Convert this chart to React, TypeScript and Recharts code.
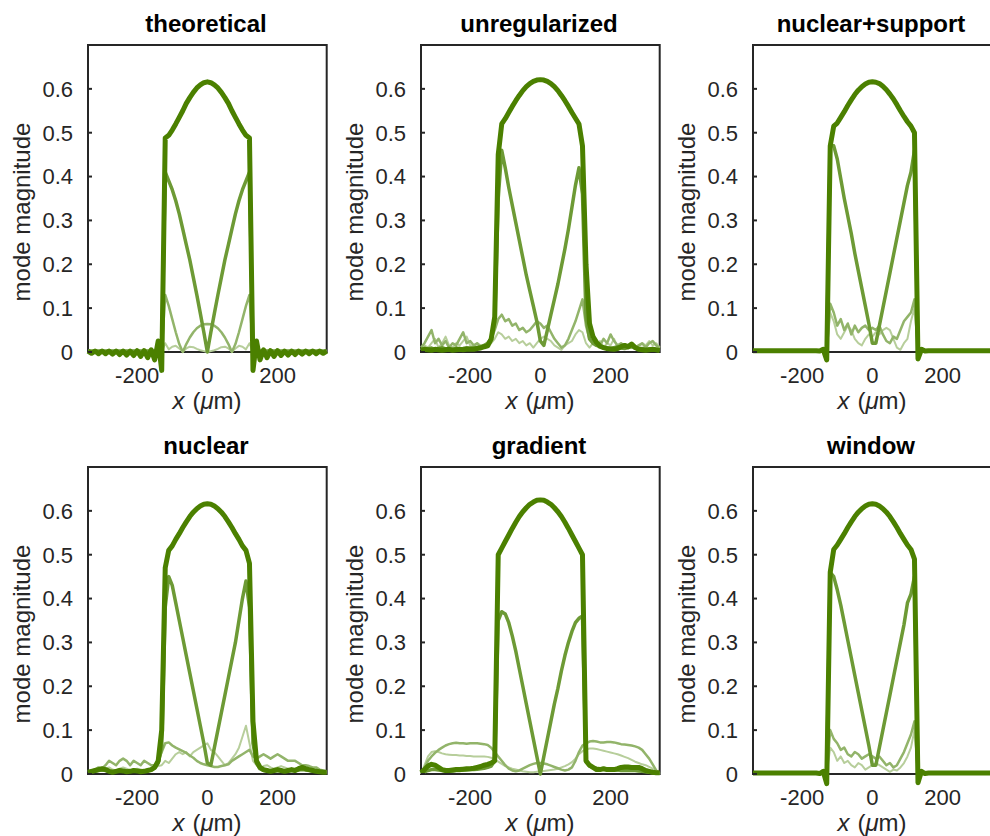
import React from 'react';
import { LineChart, Line, XAxis, YAxis, ReferenceArea, Label } from 'recharts';

const X = [-340,-330,-320,-310,-300,-290,-280,-270,-260,-250,-240,-230,-220,-210,-200,-190,-180,-170,-160,-150,-140,-130,-120,-110,-100,-90,-80,-70,-60,-50,-40,-30,-20,-10,0,10,20,30,40,50,60,70,80,90,100,110,120,130,140,150,160,170,180,190,200,210,220,230,240,250,260,270,280,290,300,310,320,330,340];
const X_TICKS = [-200, 0, 200];
const Y_TICKS = [0, 0.1, 0.2, 0.3, 0.4, 0.5, 0.6];
const TITLES = ['theoretical', 'unregularized', 'nuclear+support', 'nuclear', 'gradient', 'window'];

// theoretical
const THEO_M0 = [0.002,-0.003,0.002,-0.004,0.002,-0.004,0.002,-0.005,0.002,-0.006,0.002,-0.007,0.002,-0.008,0.003,-0.01,0.003,-0.013,0.005,-0.018,0.025,
  -0.042,
  0.488,0.494,0.506,0.52,0.535,0.55,0.567,0.58,0.592,0.602,0.609,0.614,0.616,0.614,0.609,0.602,0.592,0.58,0.567,0.55,0.535,0.52,0.506,0.494,0.488,
  -0.042,
  0.025,-0.018,0.005,-0.013,0.003,-0.01,0.003,-0.008,0.002,-0.007,0.002,-0.006,0.002,-0.005,0.002,-0.004,0.002,-0.004,0.002,-0.003,0.002];
const THEO_M1 = [0.002,0.002,0.002,0.002,0.002,0.002,0.002,0.002,0.002,0.002,0.002,0.002,0.002,0.002,0.002,0.002,0.002,0.002,0.002,0.002,0.002,
  0.0,
  0.41,0.39,0.37,0.345,0.315,0.28,0.245,0.21,0.17,0.13,0.088,0.045,0.0,0.045,0.088,0.13,0.17,0.21,0.245,0.28,0.315,0.345,0.37,0.39,0.41,
  0.0,
  0.002,0.002,0.002,0.002,0.002,0.002,0.002,0.002,0.002,0.002,0.002,0.002,0.002,0.002,0.002,0.002,0.002,0.002,0.002,0.002,0.002];
const THEO_M2 = [0.001,0.001,0.001,0.001,0.001,0.001,0.001,0.001,0.001,0.001,0.001,0.001,0.001,0.001,0.001,0.001,0.001,0.001,0.001,0.001,0.001,
  0.0,
  0.13,0.105,0.075,0.045,0.018,0.0,0.018,0.033,0.045,0.054,0.06,0.063,0.064,0.063,0.06,0.054,0.045,0.033,0.018,0.0,0.018,0.045,0.075,0.105,0.13,
  0.0,
  0.001,0.001,0.001,0.001,0.001,0.001,0.001,0.001,0.001,0.001,0.001,0.001,0.001,0.001,0.001,0.001,0.001,0.001,0.001,0.001,0.001];
const THEO_M3 = [0.001,0.001,0.001,0.001,0.001,0.001,0.001,0.001,0.001,0.001,0.001,0.001,0.001,0.001,0.001,0.001,0.001,0.001,0.001,0.001,0.001,
  0.0,
  0.02,0.006,0.012,0.014,0.008,0.001,0.008,0.012,0.011,0.007,0.004,0.002,0.0,0.002,0.004,0.007,0.011,0.012,0.008,0.001,0.008,0.014,0.012,0.006,0.02,
  0.0,
  0.001,0.001,0.001,0.001,0.001,0.001,0.001,0.001,0.001,0.001,0.001,0.001,0.001,0.001,0.001,0.001,0.001,0.001,0.001,0.001,0.001];

// unregularized
const UNREG_M0 = [0.004,0.006,0.005,0.004,0.006,0.005,0.004,0.005,0.006,0.004,0.005,0.006,0.005,0.006,0.007,0.006,0.008,0.009,0.012,0.014,0.03,
  0.08,
  0.45,0.52,0.532,0.546,0.56,0.573,0.585,0.596,0.605,0.612,0.617,0.62,0.621,0.62,0.617,0.612,0.605,0.596,0.585,0.573,0.56,0.546,0.533,0.52,0.47,
  0.2,
  0.065,0.035,0.022,0.013,0.01,0.008,0.007,0.006,0.008,0.012,0.015,0.012,0.018,0.01,0.006,0.005,0.004,0.005,0.006,0.005,0.003];
const UNREG_M1 = [0.006,0.008,0.007,0.009,0.006,0.008,0.01,0.007,0.008,0.006,0.009,0.007,0.008,0.01,0.008,0.009,0.01,0.012,0.015,0.02,0.03,
  0.07,
  0.35,0.46,0.42,0.375,0.335,0.295,0.255,0.215,0.175,0.14,0.105,0.07,0.025,0.015,0.05,0.085,0.12,0.155,0.195,0.235,0.28,0.33,0.38,0.42,0.36,
  0.08,
  0.03,0.02,0.015,0.012,0.01,0.009,0.008,0.01,0.012,0.009,0.008,0.01,0.012,0.009,0.007,0.008,0.006,0.007,0.006,0.005,0.005];
const UNREG_M2 = [0.01,0.02,0.035,0.05,0.02,0.03,0.015,0.025,0.01,0.02,0.015,0.03,0.045,0.02,0.025,0.015,0.02,0.01,0.015,0.02,0.03,
  0.05,
  0.075,0.085,0.07,0.075,0.06,0.065,0.05,0.055,0.045,0.05,0.06,0.07,0.065,0.055,0.06,0.045,0.03,0.02,0.01,0.015,0.03,0.05,0.07,0.095,0.12,
  0.06,
  0.03,0.02,0.025,0.015,0.03,0.02,0.04,0.025,0.015,0.02,0.01,0.015,0.02,0.01,0.015,0.02,0.01,0.02,0.025,0.015,0.01];
const UNREG_M3 = [0.005,0.015,0.01,0.02,0.03,0.01,0.02,0.035,0.015,0.01,0.02,0.015,0.025,0.035,0.015,0.01,0.02,0.015,0.01,0.015,0.02,
  0.03,
  0.045,0.04,0.03,0.035,0.025,0.03,0.02,0.025,0.015,0.02,0.01,0.02,0.03,0.035,0.03,0.025,0.015,0.01,0.005,0.015,0.02,0.025,0.04,0.05,0.045,
  0.02,
  0.01,0.02,0.015,0.025,0.01,0.02,0.015,0.03,0.01,0.02,0.015,0.01,0.02,0.015,0.01,0.02,0.015,0.025,0.015,0.02,0.01];

// nuclear+support
const NUCSUP_M0 = [0.003,0.003,0.003,0.003,0.003,0.003,0.003,0.003,0.003,0.003,0.003,0.003,0.003,0.003,0.003,0.003,0.003,0.003,0.003,0.002,0.006,
  -0.018,
  0.47,0.515,0.522,0.535,0.548,0.562,0.575,0.587,0.597,0.605,0.611,0.615,0.616,0.615,0.612,0.606,0.598,0.588,0.577,0.564,0.55,0.537,0.525,0.515,0.5,
  -0.016,
  0.006,0.002,0.003,0.003,0.003,0.003,0.003,0.003,0.003,0.003,0.003,0.003,0.003,0.003,0.003,0.003,0.003,0.003,0.003,0.003,0.003];
const NUCSUP_M1 = [0.002,0.002,0.002,0.002,0.002,0.002,0.002,0.002,0.002,0.002,0.002,0.002,0.002,0.002,0.002,0.002,0.002,0.002,0.002,0.002,0.002,
  0.0,
  0.47,0.47,0.44,0.395,0.35,0.31,0.27,0.225,0.185,0.145,0.105,0.065,0.02,0.02,0.06,0.1,0.14,0.18,0.22,0.26,0.3,0.34,0.38,0.41,0.46,
  0.0,
  0.002,0.002,0.002,0.002,0.002,0.002,0.002,0.002,0.002,0.002,0.002,0.002,0.002,0.002,0.002,0.002,0.002,0.002,0.002,0.002,0.002];
const NUCSUP_M2 = [0.002,0.002,0.002,0.002,0.002,0.002,0.002,0.002,0.002,0.002,0.002,0.002,0.002,0.002,0.002,0.002,0.002,0.002,0.002,0.002,0.002,
  0.0,
  0.11,0.09,0.06,0.075,0.05,0.065,0.04,0.06,0.045,0.055,0.06,0.05,0.055,0.05,0.06,0.04,0.025,0.02,0.035,0.03,0.05,0.07,0.08,0.09,0.12,
  0.0,
  0.002,0.002,0.002,0.002,0.002,0.002,0.002,0.002,0.002,0.002,0.002,0.002,0.002,0.002,0.002,0.002,0.002,0.002,0.002,0.002,0.002];
const NUCSUP_M3 = [0.001,0.001,0.001,0.001,0.001,0.001,0.001,0.001,0.001,0.001,0.001,0.001,0.001,0.001,0.001,0.001,0.001,0.001,0.001,0.001,0.001,
  0.0,
  0.09,0.07,0.04,0.03,0.045,0.06,0.05,0.03,0.02,0.015,0.03,0.04,0.035,0.045,0.04,0.05,0.055,0.05,0.03,0.01,0.005,0.02,0.03,0.07,0.1,
  0.0,
  0.001,0.001,0.001,0.001,0.001,0.001,0.001,0.001,0.001,0.001,0.001,0.001,0.001,0.001,0.001,0.001,0.001,0.001,0.001,0.001,0.001];

// nuclear
const NUC_M0 = [0.004,0.006,0.008,0.01,0.012,0.01,0.006,0.004,0.006,0.008,0.007,0.005,0.006,0.008,0.007,0.005,0.006,0.008,0.01,0.015,0.03,
  0.1,
  0.47,0.51,0.52,0.535,0.548,0.562,0.575,0.587,0.597,0.605,0.611,0.615,0.616,0.615,0.611,0.605,0.597,0.587,0.575,0.562,0.548,0.535,0.52,0.51,0.48,
  0.12,
  0.03,0.015,0.01,0.008,0.006,0.008,0.01,0.008,0.006,0.008,0.01,0.008,0.012,0.015,0.012,0.01,0.008,0.006,0.005,0.004,0.004];
const NUC_M1 = [0.004,0.005,0.006,0.008,0.009,0.008,0.006,0.005,0.006,0.007,0.007,0.006,0.006,0.007,0.007,0.006,0.006,0.008,0.01,0.014,0.025,
  0.06,
  0.38,0.45,0.43,0.39,0.35,0.31,0.27,0.23,0.19,0.15,0.11,0.07,0.025,0.02,0.06,0.1,0.14,0.18,0.22,0.26,0.3,0.35,0.4,0.44,0.38,
  0.07,
  0.025,0.012,0.008,0.007,0.006,0.007,0.008,0.007,0.006,0.007,0.008,0.007,0.009,0.01,0.009,0.008,0.007,0.006,0.005,0.004,0.004];
const NUC_M2 = [0.005,0.008,0.01,0.015,0.012,0.02,0.03,0.025,0.02,0.03,0.035,0.03,0.02,0.03,0.025,0.02,0.03,0.025,0.02,0.02,0.03,
  0.05,
  0.07,0.072,0.065,0.06,0.056,0.052,0.048,0.042,0.037,0.03,0.025,0.022,0.02,0.018,0.016,0.016,0.018,0.02,0.022,0.03,0.035,0.04,0.045,0.05,0.055,
  0.04,
  0.035,0.04,0.045,0.04,0.035,0.04,0.045,0.04,0.035,0.03,0.03,0.03,0.025,0.02,0.02,0.018,0.015,0.015,0.01,0.008,0.005];
const NUC_M3 = [0.003,0.005,0.008,0.01,0.008,0.012,0.015,0.01,0.008,0.012,0.015,0.012,0.008,0.01,0.012,0.01,0.008,0.01,0.012,0.015,0.018,
  0.02,
  0.03,0.025,0.035,0.045,0.05,0.045,0.05,0.04,0.05,0.055,0.06,0.065,0.07,0.055,0.05,0.04,0.03,0.02,0.025,0.035,0.045,0.06,0.085,0.11,0.07,
  0.03,
  0.02,0.015,0.018,0.02,0.015,0.012,0.015,0.018,0.015,0.012,0.01,0.012,0.015,0.012,0.01,0.008,0.01,0.008,0.006,0.005,0.004];

// gradient
const GRAD_M0 = [0.003,0.01,0.018,0.022,0.02,0.015,0.01,0.008,0.008,0.009,0.01,0.01,0.011,0.012,0.012,0.013,0.015,0.017,0.02,0.022,0.025,
  0.03,
  0.5,0.515,0.53,0.545,0.56,0.574,0.587,0.598,0.607,0.615,0.62,0.624,0.625,0.624,0.62,0.615,0.607,0.598,0.587,0.574,0.56,0.545,0.53,0.515,0.5,
  0.03,
  0.02,0.015,0.01,0.01,0.012,0.01,0.01,0.01,0.012,0.015,0.016,0.016,0.015,0.015,0.015,0.012,0.008,0.006,0.004,0.003,0.003];
const GRAD_M1 = [0.002,0.005,0.008,0.01,0.01,0.009,0.008,0.007,0.007,0.007,0.008,0.008,0.009,0.009,0.01,0.01,0.011,0.012,0.013,0.015,0.018,
  0.03,
  0.35,0.37,0.365,0.345,0.315,0.28,0.24,0.2,0.16,0.12,0.08,0.04,0.0,0.04,0.08,0.12,0.16,0.195,0.235,0.27,0.3,0.325,0.345,0.355,0.36,
  0.03,
  0.018,0.015,0.013,0.012,0.011,0.01,0.01,0.009,0.009,0.008,0.008,0.008,0.008,0.008,0.007,0.006,0.005,0.004,0.003,0.002,0.002];
const GRAD_M2 = [0.0,0.015,0.03,0.04,0.048,0.055,0.06,0.065,0.068,0.07,0.071,0.07,0.07,0.069,0.07,0.07,0.07,0.069,0.068,0.066,0.06,
  0.05,
  0.04,0.03,0.02,0.012,0.008,0.006,0.008,0.012,0.016,0.02,0.023,0.025,0.025,0.024,0.022,0.019,0.016,0.013,0.01,0.008,0.01,0.015,0.03,0.05,0.065,
  0.07,
  0.074,0.075,0.074,0.072,0.072,0.073,0.073,0.072,0.07,0.068,0.067,0.066,0.065,0.063,0.06,0.055,0.045,0.035,0.022,0.008,0.0];
const GRAD_M3 = [0.0,0.02,0.04,0.05,0.052,0.05,0.047,0.045,0.044,0.043,0.043,0.042,0.042,0.041,0.041,0.04,0.04,0.04,0.04,0.039,0.037,
  0.033,
  0.028,0.023,0.018,0.015,0.012,0.01,0.008,0.006,0.005,0.004,0.004,0.005,0.006,0.007,0.008,0.009,0.01,0.012,0.015,0.018,0.022,0.027,0.035,0.045,0.052,
  0.056,
  0.058,0.058,0.057,0.055,0.053,0.051,0.049,0.047,0.045,0.042,0.039,0.036,0.032,0.028,0.025,0.022,0.02,0.016,0.012,0.006,0.0];

// window
const WIN_M0 = [0.002,0.002,0.002,0.002,0.002,0.002,0.002,0.002,0.002,0.002,0.002,0.002,0.002,0.002,0.002,0.002,0.002,0.002,0.002,0.001,0.006,
  -0.022,
  0.46,0.512,0.522,0.535,0.548,0.562,0.575,0.587,0.597,0.605,0.611,0.615,0.616,0.615,0.611,0.605,0.597,0.587,0.575,0.562,0.548,0.535,0.522,0.512,0.49,
  -0.02,
  0.006,0.001,0.002,0.002,0.002,0.002,0.002,0.002,0.002,0.002,0.002,0.002,0.002,0.002,0.002,0.002,0.002,0.002,0.002,0.002,0.002];
const WIN_M1 = [0.002,0.002,0.002,0.002,0.002,0.002,0.002,0.002,0.002,0.002,0.002,0.002,0.002,0.002,0.002,0.002,0.002,0.002,0.002,0.002,0.002,
  0.0,
  0.46,0.45,0.42,0.385,0.345,0.305,0.265,0.225,0.185,0.145,0.105,0.065,0.02,0.02,0.06,0.1,0.14,0.18,0.22,0.26,0.3,0.34,0.39,0.41,0.45,
  0.0,
  0.002,0.002,0.002,0.002,0.002,0.002,0.002,0.002,0.002,0.002,0.002,0.002,0.002,0.002,0.002,0.002,0.002,0.002,0.002,0.002,0.002];
const WIN_M2 = [0.002,0.002,0.002,0.002,0.002,0.002,0.002,0.002,0.002,0.002,0.002,0.002,0.002,0.002,0.002,0.002,0.002,0.002,0.002,0.002,0.002,
  0.0,
  0.1,0.08,0.07,0.055,0.06,0.045,0.04,0.05,0.045,0.035,0.04,0.045,0.04,0.035,0.04,0.03,0.02,0.025,0.015,0.02,0.035,0.05,0.07,0.09,0.12,
  0.0,
  0.002,0.002,0.002,0.002,0.002,0.002,0.002,0.002,0.002,0.002,0.002,0.002,0.002,0.002,0.002,0.002,0.002,0.002,0.002,0.002,0.002];
const WIN_M3 = [0.001,0.001,0.001,0.001,0.001,0.001,0.001,0.001,0.001,0.001,0.001,0.001,0.001,0.001,0.001,0.001,0.001,0.001,0.001,0.001,0.001,
  0.0,
  0.06,0.05,0.03,0.04,0.025,0.03,0.02,0.015,0.025,0.02,0.01,0.015,0.02,0.025,0.02,0.015,0.01,0.005,0.01,0.008,0.015,0.025,0.04,0.06,0.1,
  0.0,
  0.001,0.001,0.001,0.001,0.001,0.001,0.001,0.001,0.001,0.001,0.001,0.001,0.001,0.001,0.001,0.001,0.001,0.001,0.001,0.001,0.001];

const PANELS = [
  [THEO_M0, THEO_M1, THEO_M2, THEO_M3],
  [UNREG_M0, UNREG_M1, UNREG_M2, UNREG_M3],
  [NUCSUP_M0, NUCSUP_M1, NUCSUP_M2, NUCSUP_M3],
  [NUC_M0, NUC_M1, NUC_M2, NUC_M3],
  [GRAD_M0, GRAD_M1, GRAD_M2, GRAD_M3],
  [WIN_M0, WIN_M1, WIN_M2, WIN_M3],
];

const MODE_COLORS = ['#4b8000', '#6d9a35', '#92b46a', '#b7ce9b'];
const MODE_WIDTHS = [5, 3.5, 2.5, 2];
const AX = '#262626';
const FONT = '"Liberation Sans", Arial, Helvetica, sans-serif';
const COL_LEFT = [0, 333, 665];
const ROW_TOP = [0, 422];

const toPoints = (ys: number[]) => X.map((x, i) => ({ x, y: ys[i] }));

const XTick = (props: any) => {
  const { x, y, payload } = props;
  return (
    <text x={x} y={y + 8.6} textAnchor="middle" fontSize={22} fill={AX} fontFamily={FONT}>
      {payload.value}
    </text>
  );
};

function Panel({ title, series }: { title: string; series: number[][] }) {
  const order = [3, 2, 1, 0];
  return (
    <LineChart width={333} height={422} margin={{ top: 44, right: 5.3, bottom: 0, left: 0 }}>
      <XAxis
        xAxisId="b"
        dataKey="x"
        type="number"
        domain={[-340, 340]}
        ticks={X_TICKS}
        interval={0}
        orientation="bottom"
        height={48.1}
        axisLine={false}
        tickLine={false}
        tickSize={0}
        tickMargin={0}
        tick={<XTick />}
      >
        <Label
          content={() => (
            <text x={207} y={409} textAnchor="middle" fontSize={24} fill={AX} fontFamily={FONT}>
              <tspan fontStyle="italic">x</tspan>
              <tspan dx={8}>(</tspan>
              <tspan fontStyle="italic">μ</tspan>
              <tspan>m)</tspan>
            </text>
          )}
        />
      </XAxis>
      <XAxis
        xAxisId="t"
        dataKey="x"
        type="number"
        domain={[-340, 340]}
        ticks={X_TICKS}
        interval={0}
        orientation="top"
        height={1}
        axisLine={false}
        stroke={AX}
        tickLine={{ stroke: AX, strokeWidth: 2 }}
        tickSize={-4}
        tickFormatter={() => ''}
      >
        <Label
          content={() => (
            <text x={206} y={32} textAnchor="middle" fontSize={24} fontWeight="bold" fill="#000" fontFamily={FONT}>
              {title}
            </text>
          )}
        />
      </XAxis>
      <YAxis
        yAxisId="l"
        type="number"
        domain={[-0.05, 0.7]}
        ticks={Y_TICKS}
        interval={0}
        width={88}
        axisLine={false}
        stroke={AX}
        tickLine={{ stroke: AX, strokeWidth: 2 }}
        tickSize={-4}
        tickMargin={19}
        tick={{ fontSize: 22, fill: AX, fontFamily: FONT }}
      >
        <Label
          content={() => (
            <text
              transform="translate(30,212) rotate(-90)"
              textAnchor="middle"
              fontSize={24}
              fill={AX}
              fontFamily={FONT}
            >
              mode magnitude
            </text>
          )}
        />
      </YAxis>
      <YAxis
        yAxisId="r"
        orientation="right"
        type="number"
        domain={[-0.05, 0.7]}
        ticks={Y_TICKS}
        interval={0}
        width={1}
        axisLine={false}
        stroke={AX}
        tickLine={{ stroke: AX, strokeWidth: 2 }}
        tickSize={-4}
        tickFormatter={() => ''}
      />
      <ReferenceArea
        xAxisId="b"
        yAxisId="l"
        x1={-340}
        x2={340}
        y1={0}
        y2={0.7}
        fill="none"
        fillOpacity={0}
        stroke={AX}
        strokeWidth={2}
      />
      {order.map((m) => (
        <Line
          key={m}
          xAxisId="b"
          yAxisId="l"
          data={toPoints(series[m])}
          dataKey="y"
          type="linear"
          stroke={MODE_COLORS[m]}
          strokeWidth={MODE_WIDTHS[m]}
          strokeLinejoin="round"
          dot={false}
          activeDot={false}
          isAnimationActive={false}
        />
      ))}
    </LineChart>
  );
}

export default function App() {
  return (
    <div
      style={{
        position: 'absolute',
        left: 0,
        top: 0,
        width: 990,
        height: 836,
        overflow: 'hidden',
        background: '#fff',
      }}
    >
      {TITLES.map((t, i) => (
        <div
          key={t}
          style={{ position: 'absolute', left: COL_LEFT[i % 3], top: ROW_TOP[Math.floor(i / 3)] }}
        >
          <Panel title={t} series={PANELS[i]} />
        </div>
      ))}
    </div>
  );
}
